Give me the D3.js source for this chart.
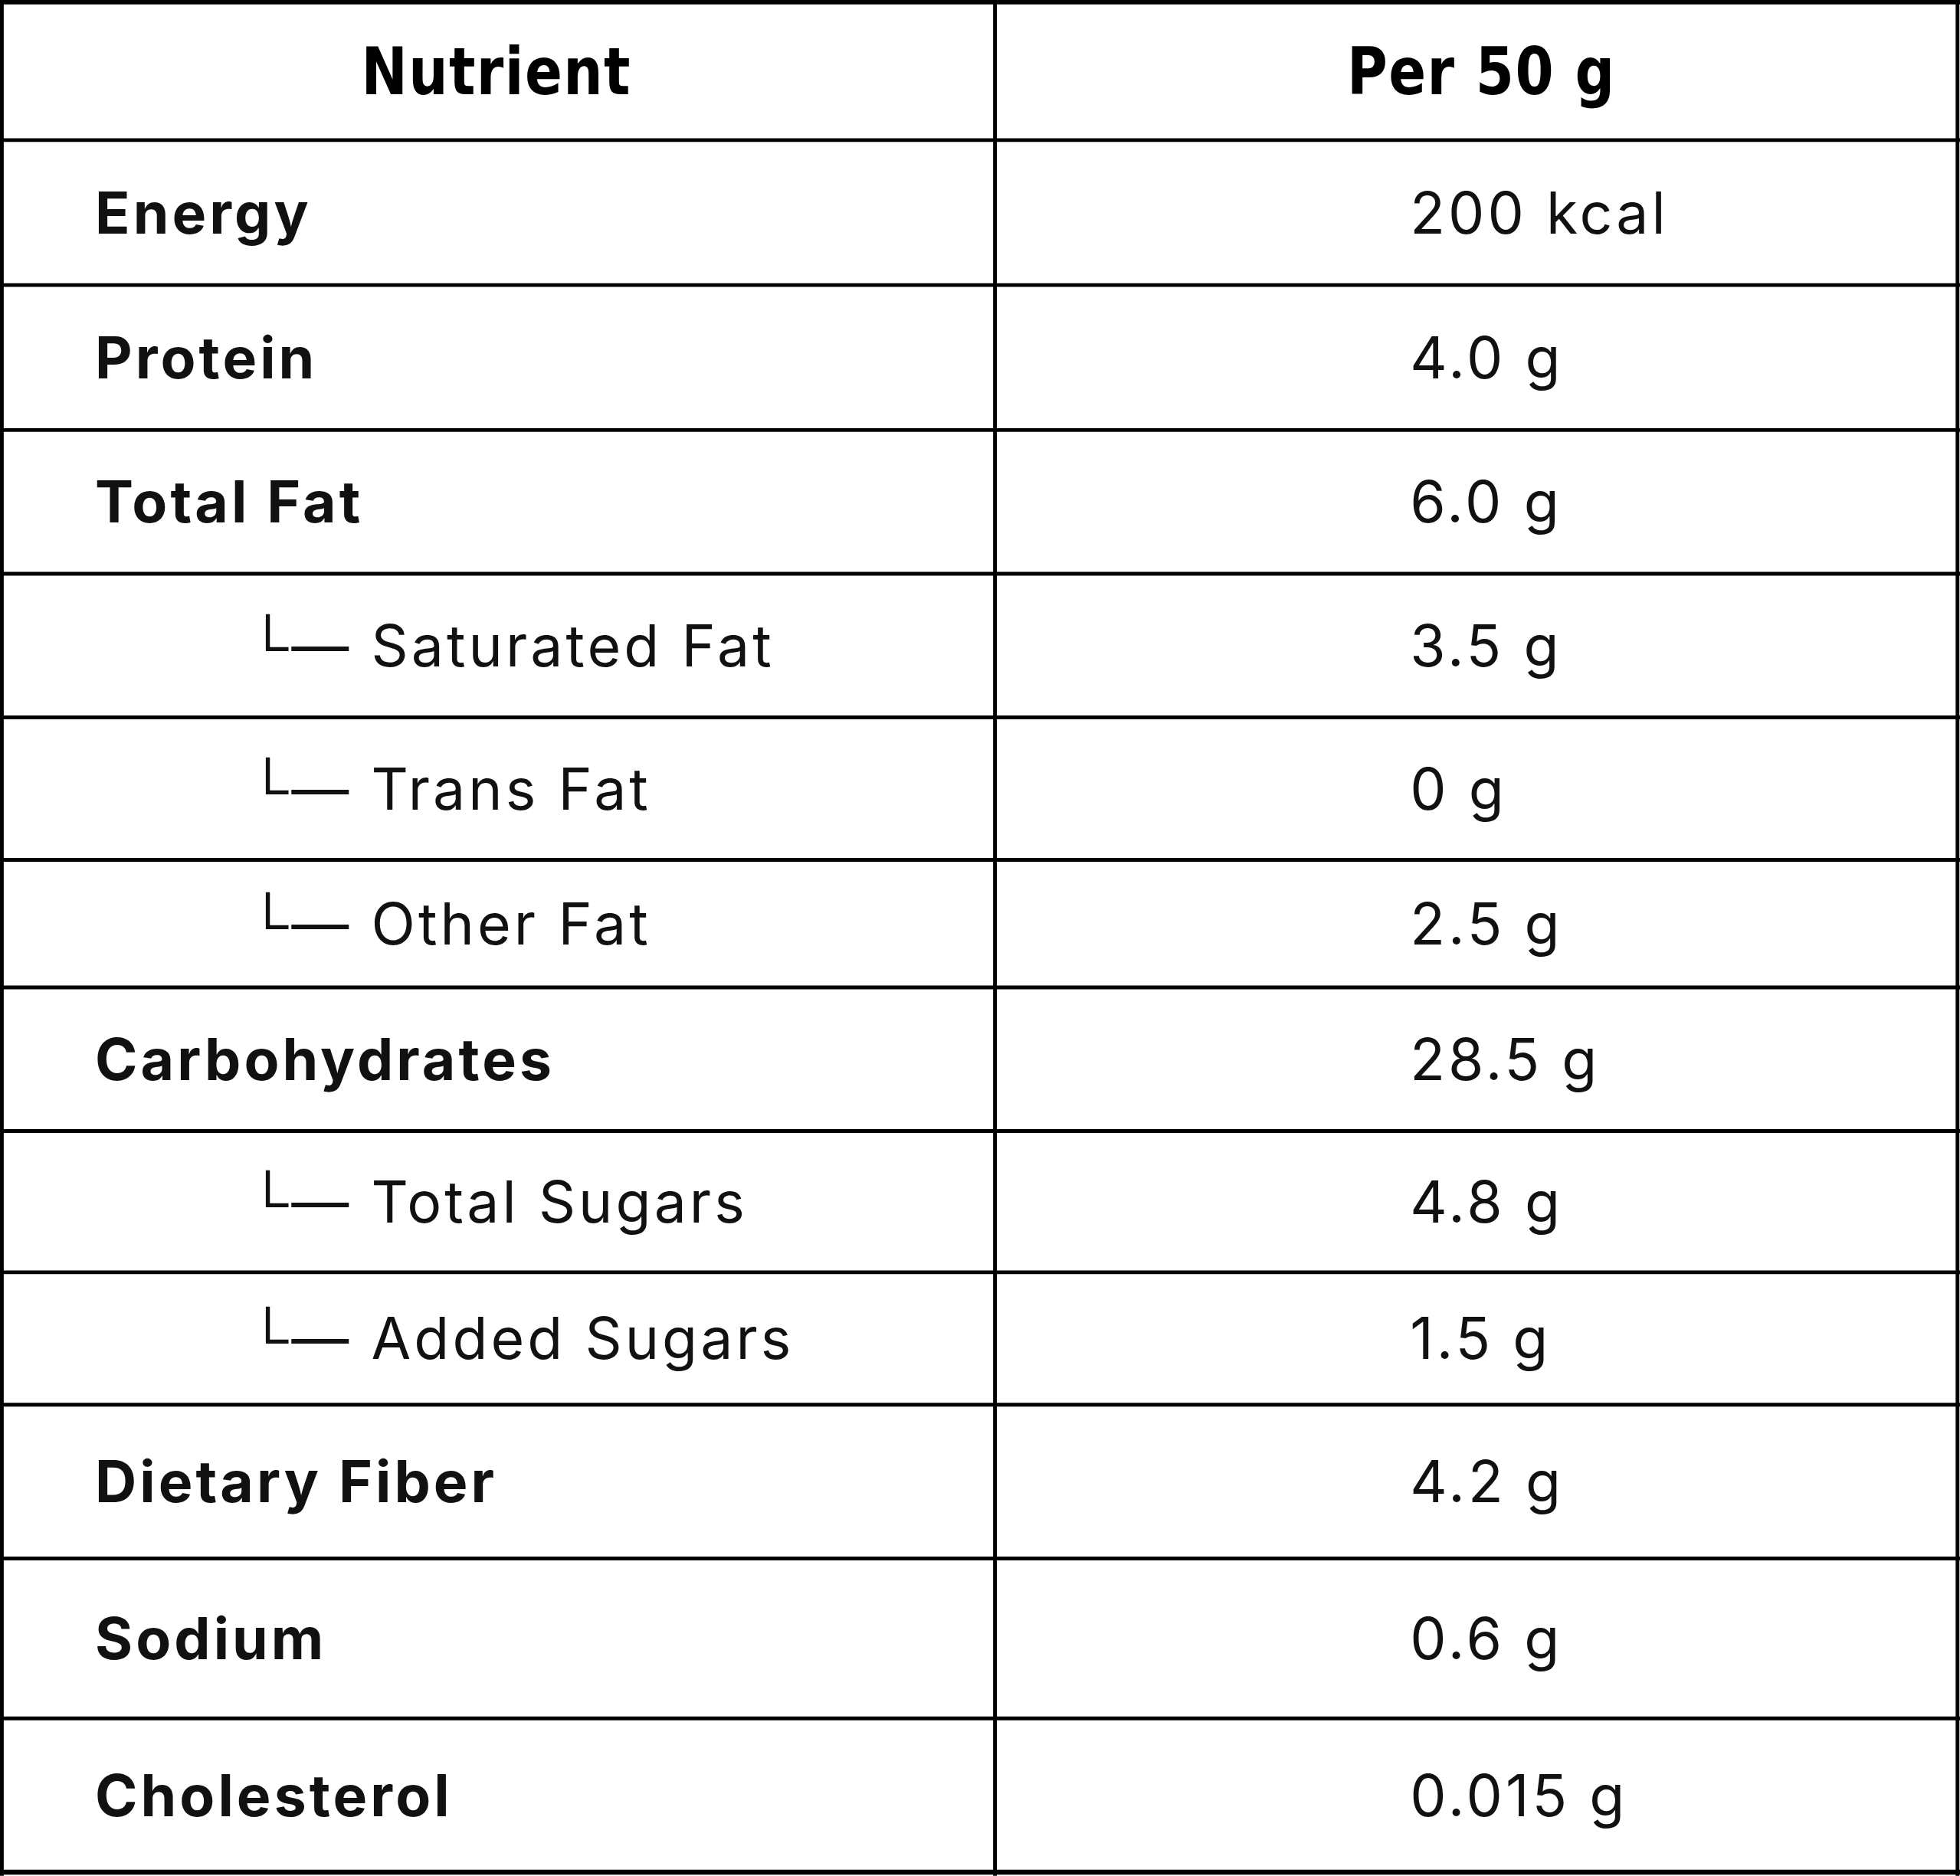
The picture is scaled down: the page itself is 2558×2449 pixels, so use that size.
<!DOCTYPE html>
<html><head><meta charset="utf-8">
<script src="https://cdn.jsdelivr.net/npm/d3@7"></script>
<style>body{margin:0;background:#fff}</style>
</head><body>
<svg id="chart"></svg>
<script>
'use strict' ;

const headers = [ "Nutrient", "Per 50 g" ] ;
const nutrients = [ "Energy", "Protein", "Total Fat", "Saturated Fat", "Trans Fat", "Other Fat",
	"Carbohydrates", "Total Sugars", "Added Sugars", "Dietary Fiber", "Sodium", "Cholesterol" ] ;
const amounts = [ "200 kcal", "4.0 g", "6.0 g", "3.5 g", "0 g", "2.5 g",
	"28.5 g", "4.8 g", "1.5 g", "4.2 g", "0.6 g", "0.015 g" ] ;
const isSub = [ false, false, false, true, true, true, false, true, true, false, false, false ] ;
// row bottom edges
const rowEdges = [ 0, 112, 228, 344, 459, 574, 688, 790, 905, 1018, 1124, 1247, 1375, 1498 ] ;

let W = 1568, H = 1501 ;
let svg = d3.select( '#chart' )
	.attr( 'width', 2558 ).attr( 'height', 2449 )
	.attr( 'viewBox', '0 0 ' + W + ' ' + H ) ;
svg.append( 'rect' ).attr( 'width', W ).attr( 'height', H ).attr( 'fill', '#fff' ) ;

let x = d3.scaleLinear().domain( [ 0, 1 ] ).range( [ 0, W ] ) ;
let colX = 796 ;

// horizontal lines
svg.selectAll( 'line.h' )
	.data( rowEdges )
	.enter().append( 'line' )
	.attr( 'x1', 0 ).attr( 'x2', W )
	.attr( 'y1', d => Math.max( 1.5, Math.min( H - 1.5, d ))).attr( 'y2', d => Math.max( 1.5, Math.min( H - 1.5, d )))
	.attr( 'stroke', '#000' ).attr( 'stroke-width', d => ( d == 0 || d > 1490 ) ? 4 : 3 ) ;
// vertical lines
svg.selectAll( 'line.v' )
	.data( [ 1.5, colX, W - 2 ] )
	.enter().append( 'line' )
	.attr( 'x1', d => d ).attr( 'x2', d => d )
	.attr( 'y1', 0 ).attr( 'y2', H )
	.attr( 'stroke', '#000' ).attr( 'stroke-width', 3 ) ;

// headers
svg.selectAll( 'text.head' )
	.data( headers )
	.enter().append( 'text' )
	.attr( 'x', ( d, i ) => i == 0 ? 397 : 1185 )
	.attr( 'y', 75 )
	.attr( 'text-anchor', 'middle' )
	.attr( 'font-family', 'DejaVu Sans' )
	.attr( 'font-weight', 'bold' )
	.attr( 'font-size', 52 )
	.attr( 'letter-spacing', 1 )
	.attr( 'transform', ( d, i ) => 'translate(' + ( i == 0 ? 397 : 1185 ) * 0.15 + ',0) scale(0.85,1)' )
	.attr( 'fill', '#000' )
	.text( d => d ) ;

let rows = svg.selectAll( 'g.row' )
	.data( nutrients.map( ( n, i ) => ({ name: n, amount: amounts[i], sub: isSub[i], i: i }) ))
	.enter().append( 'g' )
	.attr( 'class', 'row' )
	.attr( 'transform', d => 'translate(0,' + ( rowEdges[d.i + 1] + rowEdges[d.i + 2] ) / 2 + ')' ) ;

rows.append( 'text' )
	.attr( 'x', d => d.sub ? 198 : 76 )
	.attr( 'y', 0 )
	.attr( 'dy', '0.36em' )
	.attr( 'font-family', 'Inter' )
	.attr( 'font-weight', d => d.sub ? 'normal' : 'bold' )
	.attr( 'font-size', 46 )
	.attr( 'letter-spacing', 2.5 )
	.attr( 'fill', '#111' )
	.text( d => d.sub ? '\u2514\u2014 ' + d.name : d.name ) ;

rows.append( 'text' )
	.attr( 'x', 1128 )
	.attr( 'y', 0 )
	.attr( 'dy', '0.36em' )
	.attr( 'font-family', 'Inter' )
	.attr( 'font-size', 46 )
	.attr( 'letter-spacing', 2.5 )
	.attr( 'fill', '#111' )
	.text( d => d.amount ) ;
</script>
</body></html>
